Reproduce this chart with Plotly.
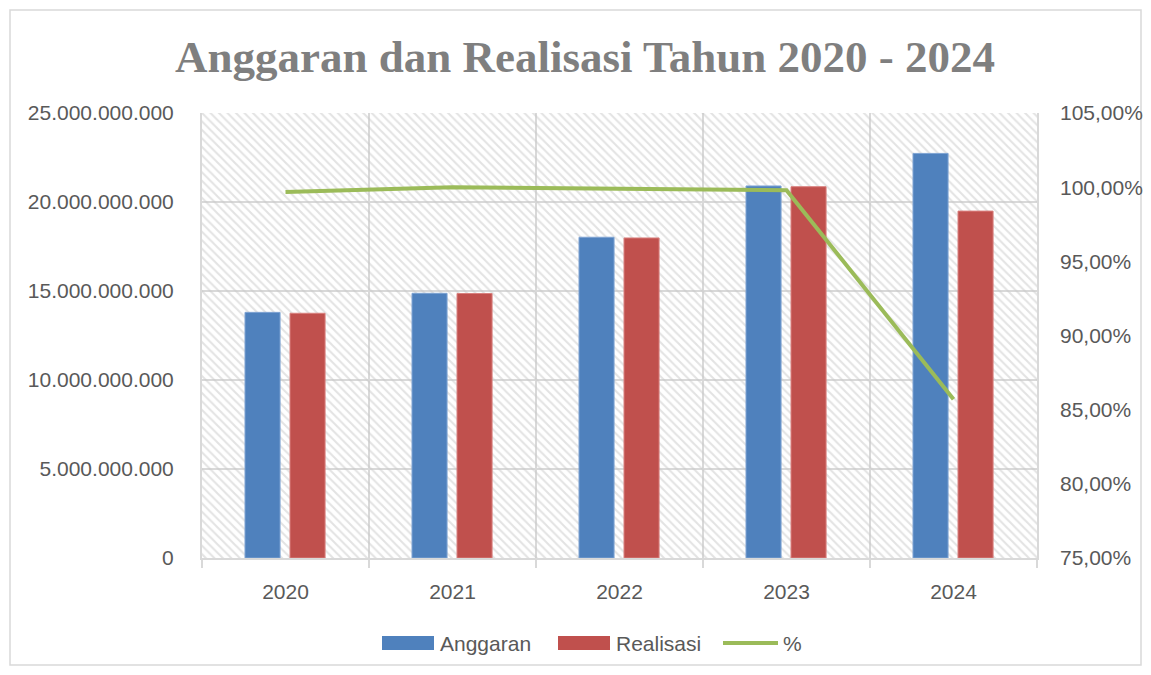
import plotly.graph_objects as go

# ---- data ----
years = [2020, 2021, 2022, 2023, 2024]
year_labels = ["2020", "2021", "2022", "2023", "2024"]
anggaran = [13.80e9, 14.87e9, 18.02e9, 20.90e9, 22.73e9]
realisasi = [13.75e9, 14.86e9, 17.98e9, 20.86e9, 19.49e9]
persen = [0.9967, 1.0000, 0.9990, 0.9980, 0.8570]

left_ticks = [0, 5e9, 10e9, 15e9, 20e9, 25e9]
right_ticks = [0.75, 0.80, 0.85, 0.90, 0.95, 1.00, 1.05]

# ---- layout geometry (pixels, in screenshot coordinates) ----
OFF = 8  # page body margin
W, H = 1151 - 2 * OFF, 675 - 2 * OFF
L, R, T, B = 202, 1037, 113, 558


def px(x):
    return (x - L) / (R - L)


def py(y):
    return (B - y) / (B - T)


BLUE = "#4f81bd"
RED = "#c0504d"
GREEN = "#9bbb59"
GRID = "#d9d9d9"
TXT = "#595959"
FONT = "Liberation Sans"

fig = go.Figure()

# hatched plot-area background (as a single bar behind everything)
x_min, x_max = min(years) - 0.5, max(years) + 0.5
fig.add_trace(go.Bar(
    x=[(x_min + x_max) / 2], y=[left_ticks[-1]], width=[x_max - x_min],
    marker=dict(color="rgba(0,0,0,0)", line=dict(width=0),
                pattern=dict(shape="\\", fgcolor="#c8c8c8", size=6,
                             solidity=0.35, fillmode="overlay")),
    hoverinfo="skip", showlegend=False,
))

fig.add_trace(go.Bar(
    x=years, y=anggaran, name="Anggaran",
    width=0.21, offset=-0.2425,
    marker=dict(color=BLUE, line=dict(color="#7ea3d3", width=1)),
    showlegend=False,
))
fig.add_trace(go.Bar(
    x=years, y=realisasi, name="Realisasi",
    width=0.21, offset=0.027,
    marker=dict(color=RED, line=dict(color="#d9807e", width=1)),
    showlegend=False,
))
fig.add_trace(go.Scatter(
    x=years, y=persen, name="%", yaxis="y2", mode="lines",
    line=dict(color=GREEN, width=4),
    showlegend=False,
))

# manual legend
shapes = [
    dict(type="rect", xref="paper", yref="paper",
         x0=px(382), x1=px(434), y0=py(650), y1=py(636),
         fillcolor=BLUE, line=dict(width=0)),
    dict(type="rect", xref="paper", yref="paper",
         x0=px(558), x1=px(610), y0=py(650), y1=py(636),
         fillcolor=RED, line=dict(width=0)),
    dict(type="line", xref="paper", yref="paper",
         x0=px(723), x1=px(778), y0=py(643), y1=py(643),
         line=dict(color=GREEN, width=4)),
    # chart border
    dict(type="rect", xref="paper", yref="paper",
         x0=px(10), x1=px(1141), y0=py(665), y1=py(10),
         line=dict(color=GRID, width=1.5), fillcolor="rgba(0,0,0,0)",
         layer="below"),
]
annotations = []
for txt, x in [("Anggaran", 438), ("Realisasi", 614), ("%", 781)]:
    annotations.append(dict(
        text=txt, xref="paper", yref="paper", x=px(x), y=py(643),
        xanchor="left", yanchor="middle", showarrow=False,
        font=dict(family=FONT, size=21, color=TXT),
    ))

fig.update_layout(
    width=W, height=H, autosize=False,
    margin=dict(l=L - OFF, r=W - (R - OFF), t=T - OFF, b=H - (B - OFF),
                pad=0, autoexpand=False),
    paper_bgcolor="white", plot_bgcolor="white",
    separators=",.",
    barmode="overlay",
    title=dict(
        text="<b>Anggaran dan Realisasi Tahun 2020 - 2024</b>",
        x=(585 - OFF) / W, xref="container", xanchor="center",
        y=1 - (56 - OFF) / H, yref="container", yanchor="middle",
        font=dict(family="Liberation Serif", size=45, color="#7f7f7f"),
    ),
    xaxis=dict(
        range=[x_min, x_max], tickmode="array", tickvals=years,
        ticktext=year_labels, showgrid=False, zeroline=False,
        ticks="", ticklabelstandoff=14, automargin=False,
        tickfont=dict(family=FONT, size=21, color=TXT),
        showline=True, linecolor=GRID, linewidth=2,
        minor=dict(tickmode="array",
                   tickvals=[y - 0.5 for y in years] + [max(years) + 0.5],
                   showgrid=True, gridcolor=GRID, gridwidth=2,
                   ticks="outside", ticklen=8, tickcolor=GRID, tickwidth=2),
    ),
    yaxis=dict(
        range=[left_ticks[0], left_ticks[-1]], tickmode="array",
        tickvals=left_ticks, tickformat=",d", automargin=False,
        showgrid=True, gridcolor=GRID, gridwidth=2, zeroline=False,
        showline=True, mirror=True, linecolor=GRID, linewidth=2,
        ticks="", ticklabelstandoff=22,
        tickfont=dict(family=FONT, size=21, color=TXT),
    ),
    yaxis2=dict(
        range=[right_ticks[0], right_ticks[-1]], tickmode="array",
        tickvals=right_ticks, tickformat=".2%", automargin=False,
        overlaying="y", side="right", anchor="x",
        showgrid=False, zeroline=False, showline=False,
        ticks="", ticklabelstandoff=22,
        tickfont=dict(family=FONT, size=21, color=TXT),
    ),
    shapes=shapes,
    annotations=annotations,
    showlegend=False,
)

fig.write_html("out.html")
